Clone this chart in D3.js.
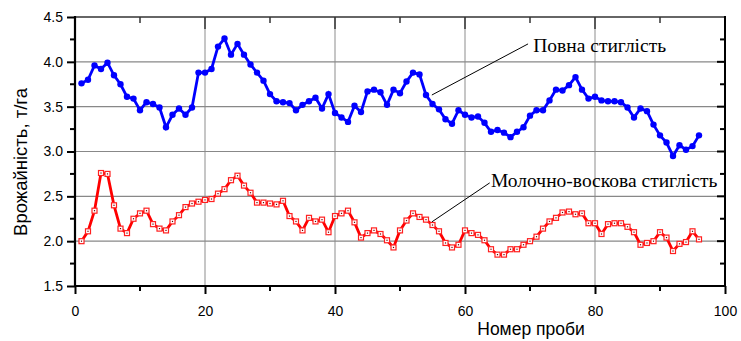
<!DOCTYPE html>
<html><head><meta charset="utf-8">
<script src="https://cdn.jsdelivr.net/npm/d3@7"></script>
<style>body{margin:0;background:#fff}svg{display:block}</style>
</head><body>
<svg id="c" width="741" height="341"></svg>
<script>
const fullRipeness = [3.76,3.80,3.96,3.92,3.99,3.85,3.75,3.61,3.59,3.46,3.55,3.53,3.49,3.27,3.41,3.48,3.41,3.49,3.88,3.88,
  3.92,4.17,4.26,4.08,4.20,4.08,3.97,3.88,3.79,3.64,3.56,3.55,3.54,3.46,3.52,3.56,3.60,3.48,3.64,3.43,
  3.38,3.33,3.51,3.44,3.67,3.69,3.66,3.52,3.69,3.65,3.78,3.88,3.86,3.63,3.53,3.47,3.36,3.31,3.46,3.41,
  3.38,3.39,3.32,3.22,3.24,3.21,3.16,3.22,3.27,3.40,3.46,3.46,3.57,3.69,3.68,3.74,3.83,3.69,3.59,3.61,
  3.57,3.56,3.56,3.55,3.49,3.38,3.48,3.45,3.30,3.18,3.10,2.95,3.07,3.02,3.06,3.18];
const milkWaxRipeness = [2.00,2.11,2.34,2.76,2.75,2.40,2.14,2.09,2.25,2.31,2.34,2.19,2.14,2.12,2.22,2.29,2.38,2.42,2.44,2.46,
  2.47,2.53,2.58,2.68,2.73,2.62,2.54,2.43,2.43,2.42,2.41,2.45,2.28,2.22,2.12,2.26,2.22,2.24,2.10,2.28,
  2.31,2.34,2.21,2.04,2.09,2.12,2.08,2.01,1.93,2.12,2.23,2.31,2.27,2.24,2.18,2.11,1.98,1.93,1.96,2.12,
  2.09,2.07,2.01,1.91,1.85,1.85,1.91,1.91,1.96,2.00,2.05,2.14,2.22,2.26,2.32,2.33,2.30,2.31,2.20,2.20,
  2.08,2.19,2.20,2.20,2.16,2.10,1.96,1.98,2.00,2.10,2.04,1.89,1.97,1.99,2.11,2.02];
const xTicks = [0,20,40,60,80,100];
const yTicks = [1.5,2.0,2.5,3.0,3.5,4.0,4.5];
const xTitle = "Номер проби";
const yTitle = "Врожайність, т/га";
const labelFull = "Повна стиглість";
const labelMilk = "Молочно-воскова стиглість";

const svg = d3.select("#c");
const x = d3.scaleLinear().domain([0,100]).range([75,725]);
const y = d3.scaleLinear().domain([1.5,4.5]).range([286,17]);
const L=75,R=725,T=17,B=286;

// grid
const g = svg.append("g");
g.selectAll(".vg").data([20,40,60,80]).join("line")
  .attr("x1",d=>x(d)).attr("x2",d=>x(d)).attr("y1",T).attr("y2",B)
  .attr("stroke","#a0a0a0").attr("stroke-width",1.2);
g.selectAll(".hg").data([2.0,2.5,3.0,3.5,4.0]).join("line")
  .attr("x1",L).attr("x2",R).attr("y1",d=>y(d)).attr("y2",d=>y(d))
  .attr("stroke","#888").attr("stroke-width",1.2);

// axes
const xMinor = d3.range(0,101,10), yMinor = d3.range(1.5,4.51,0.25);
const ax = svg.append("g").attr("transform",`translate(0,${B})`)
  .call(d3.axisBottom(x).tickValues(xTicks).tickFormat(d3.format("d")).tickSize(8).tickPadding(12));
const ay = svg.append("g").attr("transform",`translate(${L},0)`)
  .call(d3.axisLeft(y).tickValues(yTicks).tickFormat(d3.format(".1f")).tickSize(8).tickPadding(4));
[ax,ay].forEach(a=>{a.select(".domain").remove();
  a.selectAll("line").attr("stroke","#000").attr("stroke-width",2);
  a.selectAll("text").attr("font-family","Liberation Sans, Arial, sans-serif").attr("font-size",14).attr("fill","#000");});
// minor ticks
svg.selectAll(".xm").data(xMinor.filter(d=>d%20)).join("line")
  .attr("x1",d=>x(d)).attr("x2",d=>x(d)).attr("y1",B).attr("y2",B+5).attr("stroke","#000").attr("stroke-width",2);
svg.selectAll(".ym").data(yMinor.filter(d=>Math.abs(d*2-Math.round(d*2))>0.01)).join("line")
  .attr("x1",L-5).attr("x2",L).attr("y1",d=>y(d)).attr("y2",d=>y(d)).attr("stroke","#000").attr("stroke-width",2);
// top inward ticks
svg.selectAll(".tt").data(xMinor.filter(d=>d>0&&d<100)).join("line")
  .attr("x1",d=>x(d)).attr("x2",d=>x(d)).attr("y1",T).attr("y2",d=>T+(d%20?6:12)).attr("stroke","#333").attr("stroke-width",1.5);
// right inward ticks
svg.selectAll(".rt").data(yMinor.filter(d=>d>1.5&&d<4.5)).join("line")
  .attr("x1",d=>R-(Math.abs(d*2-Math.round(d*2))>0.01?5:8)).attr("x2",R).attr("y1",d=>y(d)).attr("y2",d=>y(d)).attr("stroke","#000").attr("stroke-width",2);
// frame
svg.append("line").attr("x1",L).attr("x2",R).attr("y1",T).attr("y2",T).attr("stroke","#333").attr("stroke-width",1.5);
svg.append("line").attr("x1",R).attr("x2",R).attr("y1",T-1).attr("y2",B+1).attr("stroke","#000").attr("stroke-width",2);
svg.append("line").attr("x1",L).attr("x2",L).attr("y1",T-1).attr("y2",B+1).attr("stroke","#000").attr("stroke-width",2.2);
svg.append("line").attr("x1",L-1).attr("x2",R+1).attr("y1",B).attr("y2",B).attr("stroke","#000").attr("stroke-width",2.2);

// series
const line = d3.line().x((d,i)=>x(i+1)).y(d=>y(d));
svg.append("path").datum(fullRipeness).attr("d",line).attr("fill","none").attr("stroke","#0000ff").attr("stroke-width",2.8);
svg.selectAll(".bd").data(fullRipeness).join("circle")
  .attr("cx",(d,i)=>x(i+1)).attr("cy",d=>y(d)).attr("r",3.2).attr("fill","#0000ff");
svg.append("path").datum(milkWaxRipeness).attr("d",line).attr("fill","none").attr("stroke","#ff0000").attr("stroke-width",2.8);
svg.selectAll(".rs").data(milkWaxRipeness).join("rect")
  .attr("x",(d,i)=>x(i+1)-2.5).attr("y",d=>y(d)-2.5).attr("width",5).attr("height",5)
  .attr("fill","#fff").attr("stroke","#ff2020").attr("stroke-width",1.2);
svg.selectAll(".rc").data(milkWaxRipeness).join("rect")
  .attr("x",(d,i)=>x(i+1)-0.6).attr("y",d=>y(d)-0.6).attr("width",1.2).attr("height",1.2).attr("fill","#600");

// annotations
const serif = "Liberation Serif, Times New Roman, serif";
svg.append("line").attr("x1",x(69.7)).attr("y1",y(4.2)).attr("x2",x(54.9)).attr("y2",y(3.63)).attr("stroke","#000").attr("stroke-width",1);
svg.append("text").attr("x",x(70.5)).attr("y",y(4.11)).attr("font-family",serif).attr("font-size",19.5).text(labelFull);
svg.append("line").attr("x1",x(63.8)).attr("y1",y(2.65)).attr("x2",x(54.9)).attr("y2",y(2.215)).attr("stroke","#000").attr("stroke-width",1);
svg.append("text").attr("x",x(64)).attr("y",y(2.605)).attr("font-family",serif).attr("font-size",19.5).text(labelMilk);

// titles
const sans = "Liberation Sans, Arial, sans-serif";
svg.append("text").attr("x",531).attr("y",335).attr("text-anchor","middle").attr("font-family",sans).attr("font-size",17.5).text(xTitle);
svg.append("text").attr("transform","translate(27,162) rotate(-90)").attr("text-anchor","middle").attr("font-family",sans).attr("font-size",18.5).text(yTitle);
</script>
</body></html>
